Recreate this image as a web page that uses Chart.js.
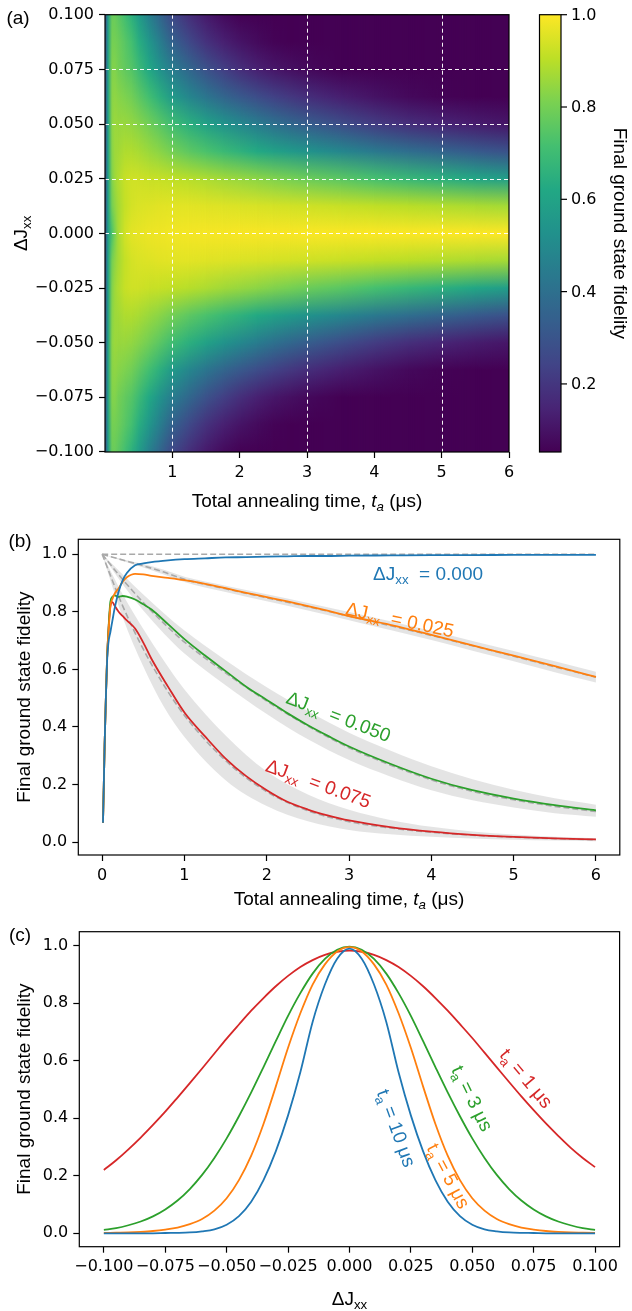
<!DOCTYPE html>
<html>
<head>
<meta charset="utf-8">
<script src="https://cdn.jsdelivr.net/npm/chart.js@4.4.0/dist/chart.umd.min.js"></script>
<style>
  html, body { margin: 0; padding: 0; background: #fff; }
  #wrap { position: relative; width: 632px; height: 1311px; }
  #wrap canvas { position: absolute; left: 0; top: 0; }
</style>
</head>
<body>
<div id="wrap">
  <canvas id="panelA" width="632" height="1311"></canvas>
  <canvas id="panelB" width="632" height="1311"></canvas>
  <canvas id="panelC" width="632" height="1311"></canvas>
</div>
<script>
// ---------- (a) heatmap: fidelity vs annealing time and |ΔJxx| ----------
const heatTimes = [0.02, 0.05, 0.1, 0.15, 0.2, 0.3, 0.4, 0.5, 0.65, 0.8, 1.0, 1.25, 1.5, 1.75, 2.0, 2.25, 2.5, 2.75, 3.0, 3.5, 4.0, 4.5, 5.0, 5.5, 6.0];
const heatOffsets = [0, 0.0125, 0.025, 0.0375, 0.05, 0.0625, 0.075, 0.0875, 0.1];
const heatFidelity = [
  [0.36, 0.58, 0.73, 0.81, 0.87, 0.935, 0.962, 0.968, 0.976, 0.979, 0.983, 0.986, 0.989, 0.990, 0.992, 0.993, 0.994, 0.994, 0.995, 0.996, 0.997, 0.997, 0.998, 0.998, 0.998],
  [0.36, 0.59, 0.80, 0.84, 0.87, 0.915, 0.94, 0.948, 0.953, 0.958, 0.96, 0.96, 0.956, 0.952, 0.948, 0.944, 0.94, 0.935, 0.93, 0.92, 0.91, 0.90, 0.89, 0.88, 0.87],
  [0.36, 0.59, 0.82, 0.862, 0.882, 0.92, 0.932, 0.93, 0.922, 0.918, 0.91, 0.897, 0.882, 0.866, 0.851, 0.836, 0.82, 0.803, 0.785, 0.755, 0.72, 0.683, 0.648, 0.611, 0.574],
  [0.36, 0.59, 0.83, 0.86, 0.865, 0.885, 0.885, 0.875, 0.855, 0.835, 0.80, 0.76, 0.727, 0.69, 0.66, 0.624, 0.593, 0.563, 0.535, 0.483, 0.436, 0.392, 0.355, 0.32, 0.289],
  [0.36, 0.59, 0.835, 0.857, 0.852, 0.853, 0.843, 0.826, 0.795, 0.757, 0.705, 0.648, 0.594, 0.54, 0.494, 0.448, 0.406, 0.368, 0.332, 0.272, 0.22, 0.18, 0.151, 0.128, 0.11],
  [0.36, 0.59, 0.83, 0.84, 0.83, 0.815, 0.795, 0.76, 0.71, 0.655, 0.565, 0.485, 0.42, 0.362, 0.315, 0.273, 0.237, 0.205, 0.178, 0.133, 0.10, 0.075, 0.057, 0.042, 0.032],
  [0.36, 0.59, 0.82, 0.822, 0.80, 0.77, 0.742, 0.693, 0.62, 0.54, 0.45, 0.367, 0.29, 0.229, 0.18, 0.14, 0.113, 0.092, 0.075, 0.052, 0.036, 0.025, 0.018, 0.013, 0.009],
  [0.36, 0.58, 0.80, 0.80, 0.79, 0.75, 0.71, 0.64, 0.55, 0.46, 0.35, 0.26, 0.19, 0.14, 0.104, 0.079, 0.06, 0.045, 0.034, 0.019, 0.011, 0.006, 0.004, 0.002, 0.001],
  [0.35, 0.57, 0.78, 0.78, 0.76, 0.71, 0.65, 0.57, 0.46, 0.37, 0.26, 0.18, 0.12, 0.08, 0.055, 0.036, 0.025, 0.018, 0.012, 0.006, 0.003, 0.001, 0.001, 0, 0]
];
const gridTimesA = [1, 3, 5];
const gridOffsetsA = [0.075, 0.05, 0.025, 0];
const xTicksA = [1, 2, 3, 4, 5, 6];
const yTicksA = [-0.1, -0.075, -0.05, -0.025, 0, 0.025, 0.05, 0.075, 0.1];
const cbMin = 0.0525, cbMax = 1.0;
const cbTicks = [0.2, 0.4, 0.6, 0.8, 1.0];

// ---------- (b) fidelity vs annealing time ----------
const timesB = [0.01, 0.02, 0.03, 0.045, 0.06, 0.075, 0.1, 0.125, 0.15, 0.2, 0.25, 0.3, 0.4, 0.5, 0.6, 0.8, 1.0, 1.25, 1.5, 1.75, 2.0, 2.25, 2.5, 2.75, 3.0, 3.5, 4.0, 4.5, 5.0, 5.5, 6.0];
const fid000 = [0.067, 0.2, 0.34, 0.5, 0.63, 0.69, 0.73, 0.77, 0.81, 0.87, 0.91, 0.935, 0.962, 0.968, 0.973, 0.979, 0.983, 0.986, 0.989, 0.990, 0.992, 0.993, 0.994, 0.994, 0.995, 0.996, 0.997, 0.997, 0.998, 0.998, 0.998];
const fid025 = [0.067, 0.2, 0.34, 0.5, 0.64, 0.72, 0.82, 0.845, 0.862, 0.882, 0.905, 0.92, 0.932, 0.93, 0.925, 0.918, 0.91, 0.897, 0.882, 0.866, 0.851, 0.836, 0.82, 0.803, 0.785, 0.755, 0.72, 0.683, 0.648, 0.611, 0.574];
const fid050 = [0.067, 0.2, 0.34, 0.5, 0.64, 0.73, 0.835, 0.852, 0.857, 0.852, 0.855, 0.853, 0.843, 0.826, 0.808, 0.757, 0.705, 0.648, 0.594, 0.54, 0.494, 0.448, 0.406, 0.368, 0.332, 0.272, 0.22, 0.18, 0.151, 0.128, 0.11];
const fid075 = [0.067, 0.2, 0.34, 0.5, 0.64, 0.73, 0.82, 0.834, 0.822, 0.80, 0.785, 0.77, 0.742, 0.693, 0.636, 0.54, 0.45, 0.367, 0.29, 0.229, 0.18, 0.14, 0.113, 0.092, 0.075, 0.052, 0.036, 0.025, 0.018, 0.013, 0.009];

const fitTimes = [0, 0.25, 0.5, 0.75, 1, 1.5, 2, 2.5, 3, 3.5, 4, 4.5, 5, 5.5, 6];
const fit000 = [1, 1, 1, 1, 1, 1, 1, 1, 1, 1, 1, 1, 1, 1, 1];
const fit025 = [1, 0.98, 0.96, 0.938, 0.913, 0.88, 0.849, 0.818, 0.785, 0.752, 0.718, 0.682, 0.646, 0.609, 0.573];
const fit050 = [1, 0.912, 0.832, 0.76, 0.695, 0.588, 0.49, 0.403, 0.328, 0.268, 0.216, 0.176, 0.147, 0.124, 0.106];
const fit075 = [1, 0.82, 0.67, 0.545, 0.44, 0.283, 0.175, 0.109, 0.071, 0.049, 0.034, 0.024, 0.017, 0.012, 0.008];
const band025Hi = [1, 0.983, 0.966, 0.946, 0.922, 0.891, 0.861, 0.831, 0.799, 0.767, 0.734, 0.699, 0.664, 0.628, 0.592];
const band025Lo = [1, 0.977, 0.954, 0.93, 0.904, 0.869, 0.837, 0.805, 0.771, 0.737, 0.702, 0.665, 0.628, 0.59, 0.554];
const band050Hi = [1, 0.93, 0.86, 0.795, 0.735, 0.632, 0.538, 0.455, 0.38, 0.318, 0.263, 0.218, 0.182, 0.152, 0.13];
const band050Lo = [1, 0.895, 0.805, 0.725, 0.655, 0.545, 0.445, 0.357, 0.285, 0.228, 0.18, 0.145, 0.12, 0.1, 0.088];
const band075Hi = [1, 0.86, 0.74, 0.63, 0.53, 0.37, 0.245, 0.165, 0.112, 0.077, 0.053, 0.037, 0.026, 0.018, 0.013];
const band075Lo = [1, 0.78, 0.61, 0.47, 0.365, 0.215, 0.125, 0.072, 0.042, 0.027, 0.018, 0.012, 0.008, 0.005, 0.003];
const xTicksB = [0, 1, 2, 3, 4, 5, 6];
const yTicksB = [0, 0.2, 0.4, 0.6, 0.8, 1.0];

// ---------- (c) fidelity vs ΔJxx ----------
const offsetsC = [-0.1, -0.095, -0.09, -0.085, -0.08, -0.075, -0.07, -0.065, -0.06, -0.055, -0.05, -0.045, -0.04, -0.035, -0.03, -0.025, -0.02, -0.015, -0.01, -0.005, 0,
                  0.005, 0.01, 0.015, 0.02, 0.025, 0.03, 0.035, 0.04, 0.045, 0.05, 0.055, 0.06, 0.065, 0.07, 0.075, 0.08, 0.085, 0.09, 0.095, 0.1];
const fidT1 = [0.22, 0.254, 0.292, 0.333, 0.377, 0.423, 0.472, 0.522, 0.573, 0.625, 0.677, 0.726, 0.774, 0.818, 0.859, 0.895, 0.926, 0.950, 0.968, 0.979, 0.983,
               0.979, 0.968, 0.950, 0.926, 0.895, 0.859, 0.818, 0.774, 0.727, 0.679, 0.628, 0.577, 0.526, 0.476, 0.428, 0.382, 0.339, 0.298, 0.262, 0.23];
const fidT3 = [0.012, 0.018, 0.028, 0.041, 0.059, 0.083, 0.114, 0.154, 0.203, 0.262, 0.33, 0.407, 0.49, 0.578, 0.668, 0.756, 0.835, 0.903, 0.954, 0.986, 0.997,
               0.986, 0.954, 0.903, 0.835, 0.756, 0.668, 0.578, 0.49, 0.407, 0.33, 0.262, 0.203, 0.154, 0.114, 0.083, 0.059, 0.041, 0.028, 0.018, 0.012];
const fidT5 = [0.001, 0.002, 0.003, 0.005, 0.008, 0.013, 0.02, 0.032, 0.05, 0.079, 0.122, 0.185, 0.27, 0.38, 0.51, 0.645, 0.765, 0.865, 0.935, 0.98, 0.995,
               0.98, 0.935, 0.865, 0.765, 0.645, 0.51, 0.38, 0.27, 0.185, 0.122, 0.079, 0.05, 0.032, 0.02, 0.013, 0.008, 0.005, 0.003, 0.002, 0.001];
const fidT10 = [0, 0, 0, 0, 0, 0.001, 0.0015, 0.003, 0.007, 0.014, 0.03, 0.06, 0.11, 0.185, 0.285, 0.41, 0.56, 0.735, 0.865, 0.955, 0.99,
                0.955, 0.865, 0.735, 0.56, 0.41, 0.285, 0.185, 0.11, 0.06, 0.03, 0.014, 0.007, 0.003, 0.0015, 0.001, 0, 0, 0, 0, 0];
const xTicksC = [-0.1, -0.075, -0.05, -0.025, 0, 0.025, 0.05, 0.075, 0.1];
const yTicksC = [0, 0.2, 0.4, 0.6, 0.8, 1.0];

// ---------- styling ----------
const BLUE = '#1f77b4', ORANGE = '#ff7f0e', GREEN = '#2ca02c', RED = '#d62728';
const BAND = 'rgba(150,150,150,0.26)';
const DASH = '#a9a9a9';
const LABEL_FONT = '"Liberation Sans", Arial, sans-serif';
const TICK_FONT = { family: '"DejaVu Sans"', size: 16 };

Chart.defaults.color = '#000';
Chart.defaults.plugins.legend.display = false;
Chart.defaults.plugins.tooltip.enabled = false;

const viridisHex = ['#440154', '#482475', '#414487', '#355f8d', '#2a788e', '#21918c', '#22a884', '#44bf70', '#7ad151', '#bddf26', '#fde725'];
const viridisRgb = viridisHex.map(h => [1, 3, 5].map(i => parseInt(h.slice(i, i + 2), 16)));

function viridis(f) {
  const u = Math.min(1, Math.max(0, (f - cbMin) / (cbMax - cbMin)));
  const p = u * 10, i = Math.min(9, Math.floor(p)), r = p - i;
  const a = viridisRgb[i], b = viridisRgb[i + 1];
  return `rgb(${[0, 1, 2].map(k => Math.round(a[k] + (b[k] - a[k]) * r)).join(',')})`;
}

const fmt = (v, d) => (v < -1e-9 ? '\u2212' : '') + Math.abs(v).toFixed(d);
const pts = (xs, ys) => xs.map((x, i) => ({ x, y: ys[i] }));

// text with italic / subscript pieces
function drawRich(ctx, parts, x, y, { size = 19, rotate = 0, color = '#000', align = 'center' } = {}) {
  ctx.save();
  ctx.translate(x, y);
  ctx.rotate(rotate * Math.PI / 180);
  ctx.fillStyle = color;
  ctx.textAlign = 'left';
  ctx.textBaseline = 'alphabetic';
  const fontOf = p => `${p.it ? 'italic ' : ''}${p.sub ? size * 0.7 : size}px ${LABEL_FONT}`;
  const widths = parts.map(p => { ctx.font = fontOf(p); return ctx.measureText(p.t).width; });
  const total = widths.reduce((s, w) => s + w, 0);
  let cx = align === 'center' ? -total / 2 : 0;
  parts.forEach((p, i) => {
    ctx.font = fontOf(p);
    ctx.fillText(p.t, cx, size * 0.36 + (p.sub ? size * 0.22 : 0));
    cx += widths[i];
  });
  ctx.restore();
}

const TIME_LABEL = [{ t: 'Total annealing time, ' }, { t: 't', it: true }, { t: 'a', it: true, sub: true }, { t: ' (μs)' }];
const DJ_LABEL = [{ t: 'ΔJ' }, { t: 'xx', sub: true }];
const FID_LABEL = [{ t: 'Final ground state fidelity' }];

function axis(min, max, tickValues, decimals, fitFn) {
  return {
    type: 'linear',
    min, max,
    afterBuildTicks: s => { s.ticks = tickValues.map(value => ({ value })); },
    afterFit: fitFn,
    grid: { drawOnChartArea: false, drawTicks: true, tickLength: 6, tickWidth: 1.2, tickColor: '#000', color: '#000' },
    border: { display: false },
    ticks: { color: '#000', font: TICK_FONT, padding: 5, autoSkip: false, maxRotation: 0, minRotation: 0,
             callback: v => fmt(v, decimals) }
  };
}

function drawFrame(ctx, a) {
  ctx.save();
  ctx.strokeStyle = '#000';
  ctx.lineWidth = 1.2;
  ctx.strokeRect(a.left, a.top, a.right - a.left, a.bottom - a.top);
  ctx.restore();
}

// ---------- panel (a) ----------
const heatRows = [];
for (let k = heatOffsets.length - 1; k >= 0; k--) heatRows.push({ dj: heatOffsets[k], vals: heatFidelity[k] });
for (let k = 1; k < heatOffsets.length; k++) heatRows.push({ dj: -heatOffsets[k], vals: heatFidelity[k] });

const heatmapPlugin = {
  id: 'heatmap',
  beforeDatasetsDraw(chart) {
    const { ctx, chartArea: a, scales: { x, y } } = chart;
    const yTop = y.getPixelForValue(heatRows[0].dj);
    const yBot = y.getPixelForValue(heatRows[heatRows.length - 1].dj);
    // vertical colour profile of one annealing-time column
    const columnFill = (c, i) => {
      const g = c.createLinearGradient(0, yTop, 0, yBot);
      heatRows.forEach(row => {
        g.addColorStop((y.getPixelForValue(row.dj) - yTop) / (yBot - yTop), viridis(row.vals[i]));
      });
      return g;
    };
    const left = Math.round(a.left), right = Math.round(a.right);
    const top = Math.floor(a.top), h = Math.ceil(a.bottom) - top;
    const centers = heatTimes.map(t => Math.round(x.getPixelForValue(t)));
    const off = document.createElement('canvas');
    off.width = chart.width; off.height = chart.height;
    const octx = off.getContext('2d');

    ctx.save();
    ctx.beginPath();
    ctx.rect(a.left, a.top, a.right - a.left, a.bottom - a.top);
    ctx.clip();
    const last = heatTimes.length - 1;
    ctx.fillStyle = columnFill(ctx, 0);
    ctx.fillRect(left, top, centers[0] - left, h);
    ctx.fillStyle = columnFill(ctx, last);
    ctx.fillRect(centers[last], top, right - centers[last], h);
    // blend neighbouring columns across the gap between them
    for (let i = 0; i < last; i++) {
      const x0 = centers[i], x1 = centers[i + 1];
      if (x1 <= x0) continue;
      ctx.fillStyle = columnFill(ctx, i);
      ctx.fillRect(x0, top, x1 - x0, h);
      octx.globalCompositeOperation = 'source-over';
      octx.clearRect(0, 0, off.width, off.height);
      octx.fillStyle = columnFill(octx, i + 1);
      octx.fillRect(x0, top, x1 - x0, h);
      const mask = octx.createLinearGradient(x0, 0, x1, 0);
      mask.addColorStop(0, 'rgba(0,0,0,0)');
      mask.addColorStop(1, 'rgba(0,0,0,1)');
      octx.globalCompositeOperation = 'destination-in';
      octx.fillStyle = mask;
      octx.fillRect(x0, top, x1 - x0, h);
      ctx.drawImage(off, x0, top, x1 - x0, h, x0, top, x1 - x0, h);
    }
    // white dashed guide lines
    ctx.strokeStyle = 'rgba(255,255,255,0.95)';
    ctx.lineWidth = 1;
    ctx.setLineDash([4, 3]);
    gridTimesA.forEach(t => {
      const px = Math.round(x.getPixelForValue(t)) + 0.5;
      ctx.beginPath(); ctx.moveTo(px, a.top); ctx.lineTo(px, a.bottom); ctx.stroke();
    });
    gridOffsetsA.forEach(d => {
      const py = Math.round(y.getPixelForValue(d)) + 0.5;
      ctx.beginPath(); ctx.moveTo(a.left, py); ctx.lineTo(a.right, py); ctx.stroke();
    });
    ctx.restore();
  },
  afterDraw(chart) {
    const { ctx, chartArea: a, scales: { cb } } = chart;
    drawFrame(ctx, a);
    // colour bar
    const cbLeft = 539.5, cbRight = 561;
    const top = cb.getPixelForValue(cbMax), bot = cb.getPixelForValue(cbMin);
    const g = ctx.createLinearGradient(0, bot, 0, top);
    viridisHex.forEach((c, i) => g.addColorStop(i / 10, c));
    ctx.save();
    ctx.fillStyle = g;
    ctx.fillRect(cbLeft, top, cbRight - cbLeft, bot - top);
    ctx.strokeStyle = '#000';
    ctx.lineWidth = 1.2;
    ctx.strokeRect(cbLeft, top, cbRight - cbLeft, bot - top);
    ctx.font = `${TICK_FONT.size}px ${TICK_FONT.family}`;
    ctx.fillStyle = '#000';
    ctx.textAlign = 'left';
    ctx.textBaseline = 'middle';
    cbTicks.forEach(v => {
      const py = cb.getPixelForValue(v);
      ctx.beginPath(); ctx.moveTo(cbRight, py); ctx.lineTo(cbRight + 6, py); ctx.stroke();
      ctx.fillText(v.toFixed(1), cbRight + 10, py + 1);
    });
    ctx.restore();
    drawRich(ctx, FID_LABEL, 621, (top + bot) / 2, { rotate: 90 });
    drawRich(ctx, TIME_LABEL, (a.left + a.right) / 2, 500);
    drawRich(ctx, DJ_LABEL, 20, (a.top + a.bottom) / 2, { rotate: -90 });
    drawRich(ctx, [{ t: '(a)' }], 18, 17);
  }
};

new Chart(document.getElementById('panelA'), {
  type: 'scatter',
  data: { datasets: [] },
  options: {
    responsive: false,
    animation: false,
    events: [],
    layout: { padding: { left: 0, top: 14.7, right: 632 - 509, bottom: 1311 - 452 - 40 } },
    scales: {
      x: axis(0, 6, xTicksA, 0, s => { s.height = 40; }),
      y: axis(-0.1, 0.1, yTicksA, 3, s => { s.width = 105; }),
      cb: { type: 'linear', position: 'right', min: cbMin, max: cbMax,
            grid: { display: false }, ticks: { display: false }, border: { display: false },
            afterFit: s => { s.width = 0; } }
    }
  },
  plugins: [heatmapPlugin]
});

// ---------- panel (b) ----------
const labelsB = [
  { text: '0.000', color: BLUE, t: 3.96, f: 0.934, rot: 0 },
  { text: '0.025', color: ORANGE, t: 3.62, f: 0.774, rot: 12 },
  { text: '0.050', color: GREEN, t: 2.875, f: 0.4375, rot: 21 },
  { text: '0.075', color: RED, t: 2.63, f: 0.205, rot: 20 }
];

const decorB = {
  id: 'decorB',
  afterDraw(chart) {
    const { ctx, chartArea: a, scales: { x, y } } = chart;
    drawFrame(ctx, a);
    labelsB.forEach(l => {
      drawRich(ctx, [{ t: 'ΔJ' }, { t: 'xx', sub: true }, { t: '  = ' + l.text }],
               x.getPixelForValue(l.t), y.getPixelForValue(l.f), { rotate: l.rot, color: l.color });
    });
    drawRich(ctx, TIME_LABEL, (a.left + a.right) / 2, 898);
    drawRich(ctx, FID_LABEL, 23, (a.top + a.bottom) / 2, { rotate: -90 });
    drawRich(ctx, [{ t: '(b)' }], 20, 540);
  }
};

const bandSet = (hi, lo) => [
  { data: pts(fitTimes, hi), fill: '+1', backgroundColor: BAND, borderWidth: 0, order: 3 },
  { data: pts(fitTimes, lo), fill: false, borderWidth: 0, order: 3 }
];
const dashSet = ys => ({ data: pts(fitTimes, ys), borderColor: DASH, borderWidth: 1.6, borderDash: [6, 3], fill: false, order: 2 });
const solidSet = (ys, color) => ({ data: pts(timesB, ys), borderColor: color, borderWidth: 1.8, fill: false, order: 1 });

new Chart(document.getElementById('panelB'), {
  type: 'line',
  data: {
    datasets: [
      ...bandSet(band025Hi, band025Lo),
      ...bandSet(band050Hi, band050Lo),
      ...bandSet(band075Hi, band075Lo),
      dashSet(fit000), dashSet(fit025), dashSet(fit050), dashSet(fit075),
      solidSet(fid000, BLUE), solidSet(fid025, ORANGE), solidSet(fid050, GREEN), solidSet(fid075, RED)
    ]
  },
  options: {
    responsive: false,
    animation: false,
    events: [],
    elements: { point: { radius: 0 }, line: { cubicInterpolationMode: 'monotone' } },
    layout: { padding: { left: 0, top: 539.3, right: 632 - 619.8, bottom: 1311 - 855 - 40 } },
    scales: {
      x: axis(-0.29, 6.29, xTicksB, 0, s => { s.height = 40; }),
      y: axis(-0.045, 1.052, yTicksB, 1, s => { s.width = 78.3; })
    }
  },
  plugins: [decorB]
});

// ---------- panel (c) ----------
const labelsC = [
  { text: '1', color: RED, d: 0.0722, f: 0.54, rot: 50 },
  { text: '3', color: GREEN, d: 0.0502, f: 0.47, rot: 64 },
  { text: '5', color: ORANGE, d: 0.0405, f: 0.2, rot: 62 },
  { text: '10', color: BLUE, d: 0.0193, f: 0.366, rot: 70 }
];

const decorC = {
  id: 'decorC',
  afterDraw(chart) {
    const { ctx, chartArea: a, scales: { x, y } } = chart;
    drawFrame(ctx, a);
    labelsC.forEach(l => {
      drawRich(ctx, [{ t: 't' }, { t: 'a', sub: true }, { t: ' = ' + l.text + ' μs' }],
               x.getPixelForValue(l.d), y.getPixelForValue(l.f), { rotate: l.rot, color: l.color });
    });
    drawRich(ctx, DJ_LABEL, (a.left + a.right) / 2, 1298);
    drawRich(ctx, FID_LABEL, 23, (a.top + a.bottom) / 2, { rotate: -90 });
    drawRich(ctx, [{ t: '(c)' }], 20, 934);
  }
};

const curveC = (ys, color) => ({ data: pts(offsetsC, ys), borderColor: color, borderWidth: 1.8, fill: false });

new Chart(document.getElementById('panelC'), {
  type: 'line',
  data: {
    datasets: [curveC(fidT10, BLUE), curveC(fidT5, ORANGE), curveC(fidT3, GREEN), curveC(fidT1, RED)]
  },
  options: {
    responsive: false,
    animation: false,
    events: [],
    elements: { point: { radius: 0 }, line: { cubicInterpolationMode: 'monotone' } },
    layout: { padding: { left: 0, top: 931.7, right: 632 - 619.6, bottom: 1311 - 1246.7 - 40 } },
    scales: {
      x: axis(-0.11, 0.11, xTicksC, 3, s => { s.height = 40; }),
      y: axis(-0.0466, 1.0487, yTicksC, 1, s => { s.width = 79.3; })
    }
  },
  plugins: [decorC]
});
</script>
</body>
</html>
